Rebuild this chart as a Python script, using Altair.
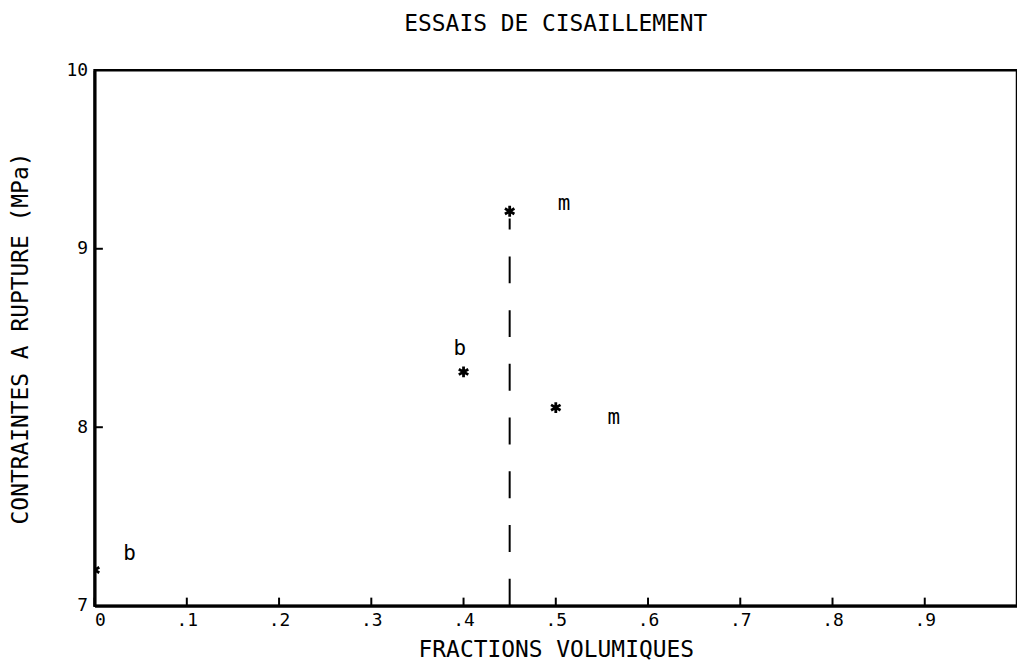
import altair as alt
import pandas as pd

FONT = "DejaVu Sans Mono"

# data
star_x = [0.45, 0.40, 0.50, 0.0]
star_y = [9.21, 8.31, 8.11, 7.20]

lab_x = [0.509, 0.396, 0.563, 0.038]
lab_y = [9.25, 8.44, 8.05, 7.29]
lab_t = ["m", "b", "m", "b"]

vline_x = [0.45]
vline_y0 = [7.0]
vline_y1 = [9.17]

x_ticks = [0.0, 0.1, 0.2, 0.3, 0.4, 0.5, 0.6, 0.7, 0.8, 0.9]
y_ticks = [7, 8, 9, 10]
y_inner_ticks = [8, 9]

stars = pd.DataFrame({"x": star_x, "y": star_y})
labels = pd.DataFrame({"x": lab_x, "y": lab_y, "t": lab_t})
vline = pd.DataFrame({"x": vline_x, "y": vline_y0, "y2": vline_y1})
xt = pd.DataFrame({"x": x_ticks})
yt = pd.DataFrame({"y": y_inner_ticks})

xscale = alt.Scale(domain=[0, 1], nice=False, zero=False)
yscale = alt.Scale(domain=[7, 10], nice=False, zero=False)

xaxis = alt.Axis(
    values=x_ticks,
    labelExpr="datum.value == 0 ? '0' : replace(format(datum.value, '.1f'), '0.', '.')",
    ticks=False, grid=False, domainColor="black", domainWidth=3,
    labelFont=FONT, labelFontSize=18, labelColor="black", labelPadding=6,
    title="FRACTIONS VOLUMIQUES", titleFont=FONT, titleFontSize=23,
    titleFontWeight="normal", titleColor="black", titlePadding=9,
)
yaxis = alt.Axis(
    values=y_ticks, format="d",
    ticks=False, grid=False, domainColor="black", domainWidth=3,
    labelFont=FONT, labelFontSize=18, labelColor="black", labelPadding=7,
    title="CONTRAINTES A RUPTURE (MPa)", titleFont=FONT, titleFontSize=23,
    titleFontWeight="normal", titleColor="black", titlePadding=34,
)

base_x = alt.X("x:Q", scale=xscale, axis=xaxis)
base_y = alt.Y("y:Q", scale=yscale, axis=yaxis)

STAR = "M0,-1L0,1M-0.87,-0.5L0.87,0.5M-0.87,0.5L0.87,-0.5"

star_layer = alt.Chart(stars).mark_point(
    shape=STAR, filled=False, stroke="black", strokeWidth=2.8, size=120,
    opacity=1, clip=True
).encode(x=base_x, y=base_y)

label_layer = alt.Chart(labels).mark_text(
    font=FONT, fontSize=21, color="black", align="center", baseline="middle"
).encode(x="x:Q", y="y:Q", text="t:N")

vline_layer = alt.Chart(vline).mark_rule(
    color="black", strokeWidth=2, strokeDash=[27, 27]
).encode(x="x:Q", y="y:Q", y2="y2:Q")

xtick_layer = alt.Chart(xt).mark_rule(color="black", strokeWidth=2).encode(
    x="x:Q", y=alt.datum(7.0), y2=alt.datum(7.045)
)
ytick_layer = alt.Chart(yt).mark_rule(color="black", strokeWidth=2).encode(
    y="y:Q", x=alt.datum(0.0), x2=alt.datum(0.009)
)

chart = alt.layer(
    star_layer, vline_layer, xtick_layer, ytick_layer, label_layer
).properties(
    width=927, height=538,
    background="white",
    title=alt.TitleParams(
        "ESSAIS DE CISAILLEMENT", font=FONT, fontSize=23, fontWeight="normal",
        color="black", anchor="middle", offset=26,
    ),
    padding={"left": 87, "top": 61, "right": 0, "bottom": 60},
    autosize=alt.AutoSizeParams(type="none"),
).configure_view(
    stroke="black", strokeWidth=2.5
)

chart.save("out.html", embed_options={"renderer": "svg", "actions": False})
